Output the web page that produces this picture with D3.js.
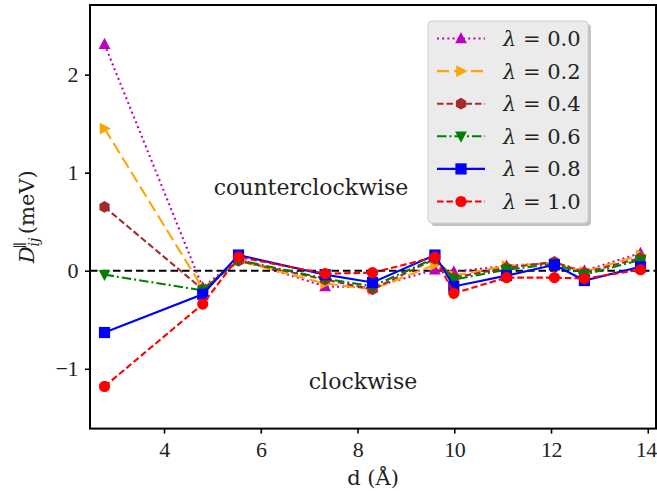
<!DOCTYPE html>
<html>
<head>
<meta charset="utf-8">
<script src="https://cdn.jsdelivr.net/npm/d3@7"></script>
<style>
  body { margin: 0; background: #fff; }
  svg text { font-family: "DejaVu Serif", serif; fill: #222; }
</style>
</head>
<body>
<svg id="chart" width="657" height="491"></svg>
<script>
// distances d (Å), hexagonal shells
const distances = [2.77, 4.80, 5.54, 7.33, 8.31, 9.60, 9.99, 11.08, 12.07, 12.69, 13.85];

// D_ij parallel (meV) for each lambda
const lam00 = [2.31, -0.17, 0.12, -0.16, -0.17, 0.01, -0.01, 0.05, 0.08, 0.00, 0.18];
const lam02 = [1.45, -0.18, 0.10, -0.13, -0.19, 0.06, -0.05, 0.05, 0.08, -0.01, 0.16];
const lam04 = [0.65, -0.19, 0.10, -0.09, -0.19, 0.12, -0.07, 0.03, 0.09, -0.02, 0.13];
const lam06 = [-0.04, -0.20, 0.11, -0.08, -0.16, 0.13, -0.09, 0.01, 0.07, -0.04, 0.11];
const lam08 = [-0.63, -0.24, 0.16, -0.04, -0.12, 0.16, -0.16, -0.05, 0.06, -0.10, 0.04];
const lam10 = [-1.18, -0.34, 0.14, -0.03, -0.02, 0.14, -0.23, -0.07, -0.07, -0.08, 0.01];

const lambdaLabels = ["0.0", "0.2", "0.4", "0.6", "0.8", "1.0"];
const xTicks = [4, 6, 8, 10, 12, 14];
const yTicks = [-1, 0, 1, 2];

const series = [
  {lab: lambdaLabels[0], vals: lam00, color: "#bf00bf", dash: "2,3.2", marker: "triUp"},
  {lab: lambdaLabels[1], vals: lam02, color: "orange", dash: "12,5", marker: "triRight"},
  {lab: lambdaLabels[2], vals: lam04, color: "brown", dash: "6.5,3", marker: "hex"},
  {lab: lambdaLabels[3], vals: lam06, color: "green", dash: "9.5,3,2,3", marker: "triDown"},
  {lab: lambdaLabels[4], vals: lam08, color: "blue", dash: null, marker: "square"},
  {lab: lambdaLabels[5], vals: lam10, color: "red", dash: "6.5,3", marker: "circle"}
];

const pLeft = 90, pRight = 656, pTop = 5, pBottom = 428.6;

const svg = d3.select("#chart");

const x = d3.scaleLinear().domain([2.47, 14.17]).range([pLeft, pRight]);
const y = d3.scaleLinear().domain([-1.61, 2.71]).range([pBottom, pTop]);

// marker shapes
const markerPath = (shape, s) => {
  let pts;
  if (shape === "circle") {
    return d3.symbol(d3.symbolCircle, Math.PI * s * s)();
  }
  if (shape === "square") {
    pts = [[-s, -s], [s, -s], [s, s], [-s, s]];
  } else if (shape === "triUp") {
    pts = [[0, -s * 1.15], [s * 1.05, s * 0.85], [-s * 1.05, s * 0.85]];
  } else if (shape === "triDown") {
    pts = [[0, s * 1.15], [s * 1.05, -s * 0.85], [-s * 1.05, -s * 0.85]];
  } else if (shape === "triRight") {
    pts = [[s * 1.15, 0], [-s * 0.85, s * 1.05], [-s * 0.85, -s * 1.05]];
  } else {
    pts = d3.range(6).map(i => {
      let a = Math.PI / 3 * i - Math.PI / 2;
      return [s * 1.05 * Math.cos(a), s * 1.05 * Math.sin(a)];
    });
  }
  return "M" + pts.map(p => p.join(",")).join("L") + "Z";
}

// zero line
svg.append("line")
  .attr("x1", pLeft).attr("x2", pRight)
  .attr("y1", y(0)).attr("y2", y(0))
  .attr("stroke", "black")
  .attr("stroke-width", 2)
  .attr("stroke-dasharray", "7.5,4");

const line = d3.line()
  .x((d, i) => x(distances[i]))
  .y(d => y(d));

series.forEach(s => {
  svg.append("path")
    .datum(s.vals)
    .attr("fill", "none")
    .attr("stroke", s.color)
    .attr("stroke-width", 2.1)
    .attr("stroke-dasharray", s.dash)
    .attr("d", line);

  svg.append("g").selectAll("path")
    .data(s.vals)
    .enter().append("path")
    .attr("transform", (d, i) => "translate(" + x(distances[i]) + "," + y(d) + ")")
    .attr("d", markerPath(s.marker, 5.6))
    .attr("fill", s.color);
});

// axes
const xAxis = d3.axisBottom(x).tickValues(xTicks).tickSize(5).tickPadding(8)
  .tickFormat(d3.format("d"));
const yAxis = d3.axisLeft(y).tickValues(yTicks).tickSize(5).tickPadding(7)
  .tickFormat(d => d < 0 ? "\u2212" + Math.abs(d) : d);

const gx = svg.append("g").attr("transform", "translate(0," + pBottom + ")").call(xAxis);
const gy = svg.append("g").attr("transform", "translate(" + pLeft + ",0)").call(yAxis);
[gx, gy].forEach(g => {
  g.select(".domain").remove();
  g.selectAll("line").attr("stroke", "black").attr("stroke-width", 1.6);
  g.selectAll("text")
    .style("font-family", "'Liberation Serif', serif")
    .style("font-size", "22px")
    .style("letter-spacing", "-0.5px")
    .attr("fill", "#222");
});
gx.selectAll("text").attr("dx", d => d === 14 ? -2 : 0);

// frame
svg.append("rect")
  .attr("x", pLeft).attr("y", pTop)
  .attr("width", pRight - pLeft).attr("height", pBottom - pTop)
  .attr("fill", "none")
  .attr("stroke", "black")
  .attr("stroke-width", 2);

// annotations
svg.append("text")
  .attr("x", 311).attr("y", 195)
  .attr("text-anchor", "middle")
  .style("font-size", "22px")
  .text("counterclockwise");

svg.append("text")
  .attr("x", 363).attr("y", 389)
  .attr("text-anchor", "middle")
  .style("font-size", "22px")
  .text("clockwise");

// axis labels
svg.append("text")
  .attr("x", (pLeft + pRight) / 2).attr("y", 485)
  .attr("text-anchor", "middle")
  .style("font-size", "21px")
  .text("d (Å)");

const yl = svg.append("text")
  .attr("transform", "translate(34," + ((pTop + pBottom) / 2) + ") rotate(-90)")
  .attr("text-anchor", "middle")
  .style("font-size", "21px");
yl.append("tspan").style("font-style", "italic").text("D");
yl.append("tspan").attr("dy", 5).style("font-size", "14px").style("font-style", "italic").text("ij");
yl.append("tspan").attr("dx", -11).attr("dy", -14).style("font-size", "14px").text("\u2225");
yl.append("tspan").attr("dx", 8).attr("dy", 9).text("(meV)");

// legend
const lg = svg.append("g");
lg.append("rect")
  .attr("x", 431).attr("y", 24)
  .attr("width", 160).attr("height", 202)
  .attr("rx", 4)
  .attr("fill", "#999")
  .attr("opacity", 0.6);
lg.append("rect")
  .attr("x", 428).attr("y", 21)
  .attr("width", 160).attr("height", 202)
  .attr("rx", 4)
  .attr("fill", "#ebebeb")
  .attr("stroke", "#d0d0d0")
  .attr("stroke-width", 1);

series.forEach((s, i) => {
  let cy = 38.5 + i * 32.6;
  lg.append("line")
    .attr("x1", 437).attr("x2", 485)
    .attr("y1", cy).attr("y2", cy)
    .attr("stroke", s.color)
    .attr("stroke-width", 2.1)
    .attr("stroke-dasharray", s.dash);
  lg.append("path")
    .attr("transform", "translate(461," + cy + ")")
    .attr("d", markerPath(s.marker, 5.6))
    .attr("fill", s.color);
  let t = lg.append("text")
    .attr("x", 503).attr("y", cy + 7.5)
    .style("font-size", "21px");
  t.append("tspan").style("font-style", "italic").text("λ");
  t.append("tspan").text(" = " + s.lab);
});
</script>
</body>
</html>
